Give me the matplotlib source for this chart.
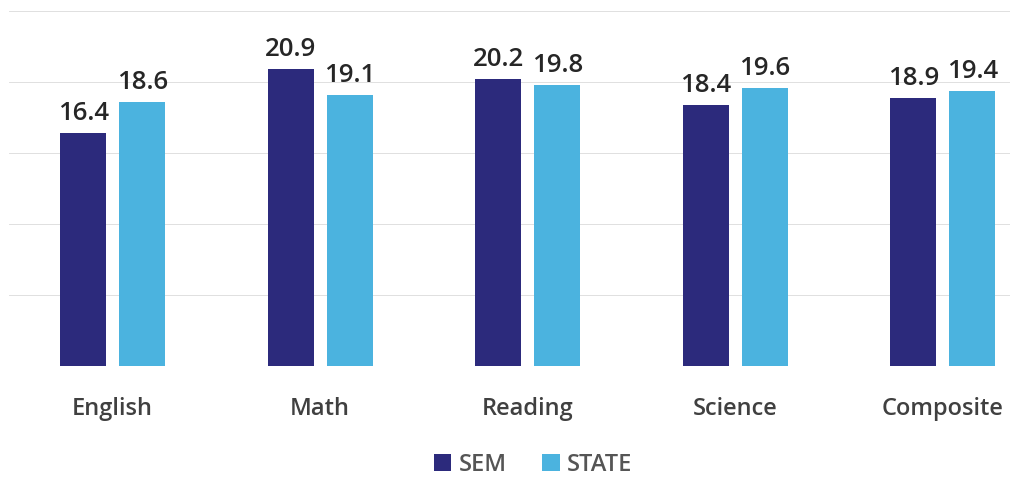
import matplotlib.pyplot as plt
import numpy as np

subjects = ['English', 'Math', 'Reading', 'Science', 'Composite']
sem = [16.4, 20.9, 20.2, 18.4, 18.9]
state = [18.6, 19.1, 19.8, 19.6, 19.4]

sem_color = '#2c2a7c'
state_color = '#4bb3df'

plt.rcParams['font.family'] = ['Open Sans', 'DejaVu Sans']

fig = plt.figure(figsize=(10.1, 4.79), dpi=100)
ax = fig.add_axes([9 / 1010, 113 / 479, 1001 / 1010, 355 / 479])

x = np.arange(len(subjects))
w = 0.222
off = 0.142
b1 = ax.bar(x - off, sem, w, color=sem_color, label='SEM', zorder=3)
b2 = ax.bar(x + off, state, w, color=state_color, label='STATE', zorder=3)

# value labels above each bar
for bars, vals in [(b1, sem), (b2, state)]:
    for rect, v in zip(bars, vals):
        ax.annotate(f'{v:.1f}', (rect.get_x() + rect.get_width() / 2, v),
                    xytext=(0, 5), textcoords='offset points',
                    ha='center', va='bottom', fontsize=18.5, fontweight='semibold',
                    color='#262626')

ax.set_ylim(0, 25)
ax.set_xlim(-0.5, -0.5 + 1001 / 207.5)
ax.set_yticks(np.arange(0, 26, 5))
ax.yaxis.grid(True, color='#e0e0e0', lw=0.7, zorder=0)
ax.set_yticklabels([])
ax.tick_params(left=False, bottom=False)
ax.set_xticks(x)
ax.set_xticklabels(subjects, fontsize=17, color='#404040', fontweight='semibold')
ax.tick_params(axis='x', pad=19)
for s in ax.spines.values():
    s.set_visible(False)

fig.legend(handles=[b1, b2], loc='center', bbox_to_anchor=(533 / 1010, 14 / 479),
           ncol=2, frameon=False, handlelength=0.75, handleheight=0.75,
           handletextpad=0.3, columnspacing=1.5,
           prop={'size': 17, 'weight': 'semibold'}, labelcolor='#555555')

fig.savefig('out.png', dpi=100)
